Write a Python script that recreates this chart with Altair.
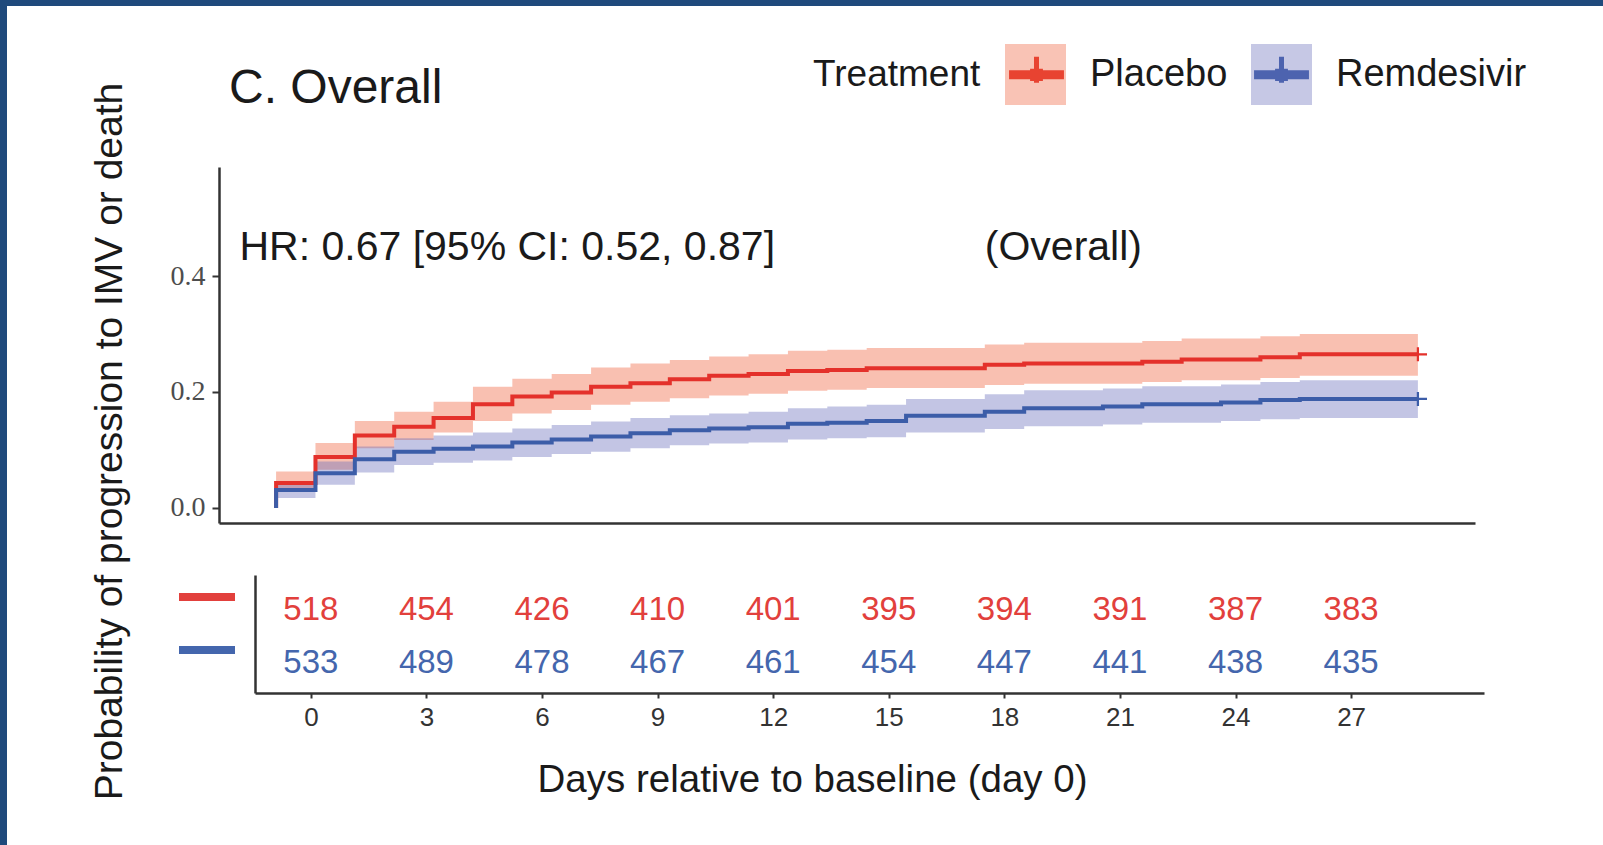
import altair as alt
import pandas as pd

SANS = "Liberation Sans"
SERIF = "Liberation Serif"
INK = "#1a1a1a"
AXIS_INK = "#333333"
BORDER = "#1f4a7c"

ARMS = ["Placebo", "Remdesivir"]
LINE_COLORS = ["#e4312b", "#3c5da8"]
BAND_COLORS = ["#f0623c", "#6a6fbb"]
TABLE_COLORS = ["#e2403c", "#4466ad"]

# Kaplan-Meier cumulative incidence (step value held from each day to the next)
DAYS = list(range(-1, 29))
PLACEBO_EST = [0.043, 0.088, 0.125, 0.140, 0.155, 0.179, 0.192, 0.199, 0.209, 0.215,
               0.222, 0.228, 0.231, 0.236, 0.238, 0.241, 0.241, 0.241, 0.247, 0.249,
               0.249, 0.249, 0.252, 0.256, 0.256, 0.260, 0.265, 0.265, 0.265, 0.265]
PLACEBO_LO = [0.028, 0.066, 0.103, 0.117, 0.130, 0.150, 0.163, 0.169, 0.178, 0.183,
              0.189, 0.194, 0.197, 0.202, 0.204, 0.207, 0.207, 0.207, 0.212, 0.214,
              0.214, 0.214, 0.217, 0.220, 0.220, 0.224, 0.228, 0.228, 0.228, 0.228]
PLACEBO_HI = [0.063, 0.112, 0.150, 0.166, 0.183, 0.209, 0.223, 0.231, 0.242, 0.249,
              0.255, 0.261, 0.265, 0.271, 0.273, 0.276, 0.276, 0.276, 0.282, 0.285,
              0.285, 0.285, 0.288, 0.292, 0.292, 0.296, 0.300, 0.300, 0.300, 0.300]
REMDESIVIR_EST = [0.031, 0.060, 0.084, 0.097, 0.102, 0.106, 0.113, 0.118, 0.123, 0.129,
                  0.134, 0.137, 0.139, 0.145, 0.147, 0.150, 0.159, 0.159, 0.166, 0.172,
                  0.172, 0.175, 0.179, 0.179, 0.182, 0.186, 0.188, 0.188, 0.188, 0.188]
REMDESIVIR_LO = [0.017, 0.040, 0.061, 0.074, 0.078, 0.082, 0.088, 0.093, 0.097, 0.103,
                 0.108, 0.111, 0.113, 0.118, 0.120, 0.122, 0.130, 0.130, 0.136, 0.141,
                 0.141, 0.144, 0.147, 0.147, 0.150, 0.153, 0.155, 0.155, 0.155, 0.155]
REMDESIVIR_HI = [0.045, 0.080, 0.106, 0.120, 0.125, 0.130, 0.137, 0.143, 0.149, 0.155,
                 0.160, 0.163, 0.166, 0.172, 0.175, 0.178, 0.188, 0.188, 0.196, 0.203,
                 0.203, 0.206, 0.210, 0.210, 0.213, 0.217, 0.220, 0.220, 0.220, 0.220]

# Number at risk
RISK_DAYS = [0, 3, 6, 9, 12, 15, 18, 21, 24, 27]
RISK_PLACEBO = [518, 454, 426, 410, 401, 395, 394, 391, 387, 383]
RISK_REMDESIVIR = [533, 489, 478, 467, 461, 454, 447, 441, 438, 435]

# In-plot annotations
ANNOT_TEXT = ["HR: 0.67 [95% CI: 0.52, 0.87]", "(Overall)"]
ANNOT_DAY = [-1.93, 17.0]
ANNOT_PROB = [0.448, 0.448]


def km_rows(arm, est, lo, hi):
    rows = [{"arm": arm, "day": DAYS[0], "est": 0.0, "lo": 0.0, "hi": 0.0, "seq": 0}]
    for i, (d, e, l, h) in enumerate(zip(DAYS, est, lo, hi), start=1):
        rows.append({"arm": arm, "day": d, "est": e, "lo": l, "hi": h, "seq": i})
    return rows


km = pd.DataFrame(km_rows("Placebo", PLACEBO_EST, PLACEBO_LO, PLACEBO_HI)
                  + km_rows("Remdesivir", REMDESIVIR_EST, REMDESIVIR_LO, REMDESIVIR_HI))
risk = pd.DataFrame({
    "arm": ["Placebo"] * len(RISK_DAYS) + ["Remdesivir"] * len(RISK_DAYS),
    "day": RISK_DAYS + RISK_DAYS,
    "n": RISK_PLACEBO + RISK_REMDESIVIR,
})
annot = pd.DataFrame({"label": ANNOT_TEXT, "day": ANNOT_DAY, "prob": ANNOT_PROB})

# ---------- survival panel ----------
up_x_scale = alt.Scale(domain=[-2.45, 29.45], range=[212, 1468], nice=False, zero=False)
up_y_scale = alt.Scale(domain=[-0.026, 0.588], range=[517, 161], nice=False, zero=False)
up_x_axis = alt.Axis(orient="bottom", offset=-322, domainColor=AXIS_INK, domainWidth=2.5,
                     ticks=False, labels=False, grid=False, title=None)
up_y_axis = alt.Axis(orient="left", offset=-212, values=[0, 0.2, 0.4], format=".1f",
                     domainColor=AXIS_INK, domainWidth=2.5, tickColor=AXIS_INK,
                     tickSize=7, tickWidth=2, grid=False,
                     labelFont=SERIF, labelFontSize=28, labelColor="#4d4d4d", labelPadding=7,
                     title="Probability of progression to IMV or death",
                     titleFont=SANS, titleFontSize=39, titleFontWeight="normal",
                     titleColor=INK, titleAngle=270, titleX=-110, titleY=435,
                     titleAlign="center", titleBaseline="middle")


def up_x(field):
    return alt.X(f"{field}:Q", scale=up_x_scale, axis=up_x_axis)


def up_y(field):
    return alt.Y(f"{field}:Q", scale=up_y_scale, axis=up_y_axis)


# Legend: shaded key boxes with title and labels ...
box_legend = alt.Legend(
    orient="none", legendX=806, legendY=38, direction="horizontal", columns=2,
    padding=0, title="Treatment", titleOrient="left", titleAnchor="middle",
    titleBaseline="middle", titleFont=SANS, titleFontSize=37, titleFontWeight="normal",
    titleColor=INK, titlePadding=24, titleLimit=400,
    labelFont=SANS, labelFontSize=38, labelColor=INK, labelOffset=24, labelLimit=400,
    columnPadding=23, symbolType="square", symbolSize=3721, symbolStrokeWidth=0,
    symbolOpacity=0.38,
)
# ... and the curve glyph (line with censoring tick) laid over each box
GLYPH = ("M-0.9,-0.148H-0.21V-0.2H-0.082V-0.59H0.082V-0.2H0.21V-0.148H0.9"
         "V0.148H0.21V0.2H0.082V0.26H-0.082V0.2H-0.21V0.148H-0.9Z")
glyph_legend = alt.Legend(
    orient="none", legendX=999, legendY=38, direction="horizontal", columns=2,
    padding=0, title=None, labelExpr="''", labelOffset=0, columnPadding=184,
    symbolType=GLYPH, symbolSize=3721, symbolStrokeWidth=0, symbolOpacity=1,
)

band_fill = alt.Color("arm:N", scale=alt.Scale(domain=ARMS, range=BAND_COLORS),
                      legend=box_legend)
line_stroke = alt.Stroke("arm:N", scale=alt.Scale(domain=ARMS, range=LINE_COLORS),
                         legend=None)
# the censor-mark fill scale takes its domain from the data (same order as ARMS)
mark_fill = alt.Fill("arm:N", scale=alt.Scale(range=LINE_COLORS), legend=glyph_legend)

base = alt.Chart(km)

band = base.mark_area(interpolate="step-after", fillOpacity=0.4).encode(
    x=up_x("day"), y=up_y("lo"), y2="hi:Q", color=band_fill,
).transform_filter("datum.seq > 0")

curve = base.mark_line(interpolate="step-after", strokeWidth=4).encode(
    x=up_x("day"), y=up_y("est"), stroke=line_stroke, order=alt.Order("seq:Q"),
)

PLUS = "M-1.3,-0.16H-0.16V-1H0.16V-0.16H1.3V0.16H0.16V1H-0.16V0.16H-1.3Z"
censor = base.mark_point(shape=PLUS, filled=True, size=196, strokeWidth=0,
                         opacity=1).encode(
    x=up_x("day"), y=up_y("est"), fill=mark_fill,
).transform_filter("datum.seq > 0 && datum.day == 28")

notes = alt.Chart(annot).mark_text(align="left", baseline="middle", font=SANS,
                                   fontSize=41, color=INK).encode(
    x=up_x("day"), y=up_y("prob"), text="label:N",
)

survival = alt.layer(band, curve, censor, notes)

# ---------- number-at-risk table ----------
table_legend = alt.Legend(
    orient="none", legendX=186, legendY=577, direction="vertical", padding=0,
    title=None, symbolType="M-2,-0.28H2V0.28H-2Z", symbolSize=784,
    symbolStrokeWidth=0, symbolOpacity=1, labelOpacity=0, labelFontSize=1, rowPadding=35,
)

table = alt.Chart(risk).mark_text(dy=14, font=SANS, fontSize=33).encode(
    x=alt.X("day:Q",
            scale=alt.Scale(domain=[-1.45, 30.45], range=[248, 1477], nice=False, zero=False),
            axis=alt.Axis(orient="bottom", offset=-152, values=RISK_DAYS,
                          domainColor=AXIS_INK, domainWidth=2.5, tickColor=AXIS_INK,
                          tickSize=5, tickWidth=2, grid=False,
                          labelFont=SANS, labelFontSize=26, labelColor=AXIS_INK,
                          labelPadding=6,
                          title="Days relative to baseline (day 0)", titleFont=SANS,
                          titleFontSize=38.5, titleFontWeight="normal", titleColor=INK,
                          titleX=805, titleY=86, titleAlign="center",
                          titleBaseline="middle")),
    y=alt.Y("arm:N",
            scale=alt.Scale(type="point", domain=ARMS, range=[569, 687],
                            padding=0.613, align=0.323),
            axis=alt.Axis(orient="left", offset=-248, domainColor=AXIS_INK,
                          domainWidth=2.5, ticks=False, labels=False, grid=False,
                          title=None)),
    color=alt.Color("arm:N", scale=alt.Scale(domain=ARMS, range=TABLE_COLORS),
                    legend=table_legend),
    text="n:Q",
)

chart = alt.layer(survival, table).resolve_scale(
    x="independent", y="independent", color="independent",
).properties(
    width=1596,
    height=839,
    autosize=alt.AutoSizeParams(type="none"),
    padding={"left": 7, "top": 6, "right": 0, "bottom": 0},
    background=BORDER,
    title=alt.Title("C. Overall", anchor="start", frame="group", offset=0, dx=222, dy=145,
                    baseline="alphabetic", font=SANS, fontSize=48, fontWeight="normal",
                    color=INK),
).configure_view(fill="white", strokeWidth=0)

chart.save("out.html", embed_options={"renderer": "svg", "actions": False})
